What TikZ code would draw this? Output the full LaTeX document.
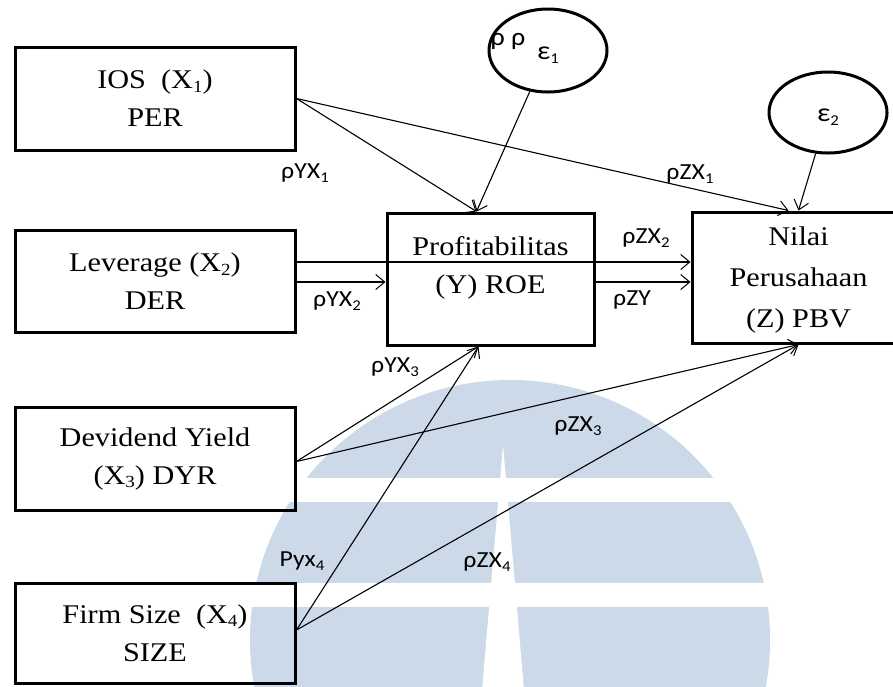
\documentclass[tikz,border=0pt]{standalone}
\usepackage{fontspec}
\setmainfont{Liberation Serif}[FakeStretch=1.12]
\newfontfamily\lblfont{Carlito}[FakeStretch=1.12]
\usetikzlibrary{arrows.meta,shapes.geometric,calc}
\definecolor{wmblue}{RGB}{204,217,232}
\newcommand\boxsub[1]{\raisebox{-0.3ex}{\fontsize{17}{17}\selectfont #1}}
\newcommand\lblsub[1]{\raisebox{-0.35ex}{\fontsize{15}{15}\selectfont #1}}
\begin{document}
\begin{tikzpicture}[x=1pt,y=-1pt,
  bx/.style={draw,line width=3pt,inner sep=0pt,align=center,font=\fontsize{27}{38}\selectfont},
  ell/.style={draw,ellipse,line width=3pt,inner sep=0pt},
  conn/.style={line width=1.1pt,-{Straight Barb[length=9pt,width=15pt,line width=1pt]}},
  lbl/.style={font=\lblfont\fontsize{23}{23}\selectfont,inner sep=0pt}]
\useasboundingbox (0,0) rectangle (893,686);
% watermark
\fill[wmblue] (510,640) circle[radius=260pt];
\fill[white] (230,478) rectangle (790,502);
\fill[white] (230,583) rectangle (790,607);
\fill[white] (503,445) -- (524,690) -- (482,690) -- cycle;
% boxes
\node[bx,minimum width=280pt,minimum height=103pt] (ios) at (155,98.5) {IOS\ \ (X\boxsub{1})\\PER};
\node[bx,minimum width=280pt,minimum height=102pt] (lev) at (155,281) {Leverage (X\boxsub{2})\\DER};
\node[bx,minimum width=280pt,minimum height=103pt] (div) at (155,458.5) {Devidend Yield\\(X\boxsub{3}) DYR};
\node[bx,minimum width=280pt,minimum height=100pt] (firm) at (155,633) {Firm Size\ \ (X\boxsub{4})\\SIZE};
\node[bx,minimum width=207pt,minimum height=132pt,text depth=28pt] (prof) at (490.5,279) {Profitabilitas\\(Y) ROE};
\node[bx,minimum width=268pt,minimum height=131pt] (nilai) at (826,277.5) {};
\node[inner sep=0pt,align=center,font=\fontsize{27}{41}\selectfont] (nilait) at (798.5,280) {Nilai\\Perusahaan\\(Z) PBV};
\node[ell,minimum width=118pt,minimum height=83pt] (e1) at (548,50.5) {};
\node[ell,minimum width=118pt,minimum height=81pt] (e2) at (828,112.5) {};
\node[lbl,font=\lblfont\fontsize{26}{26}\selectfont] (e1t) at (548,55) {ε\lblsub{1}};
\node[lbl,font=\lblfont\fontsize{26}{26}\selectfont] (e2t) at (828,117) {ε\lblsub{2}};
\node[lbl,font=\lblfont\fontsize{25}{25}\selectfont] (rr) at (508,41) {ρ ρ};
% connectors
\draw[conn] (ios.east) -- ([xshift=91pt]prof.north west);
\draw[conn] (ios.east) -- ([xshift=98pt]nilai.north west);
\draw[conn] (e1) -- ([xshift=91pt]prof.north west);
\draw[conn] (e2) -- ([xshift=108pt]nilai.north west);
\draw[conn] ([yshift=19pt]lev.east) -- ([yshift=19pt]lev.east -| nilai.west);
\draw[conn] ([yshift=-1pt]lev.east) -- ([yshift=-1pt]lev.east -| prof.west);
\draw[conn] ([yshift=-1pt]lev.east -| prof.east) -- ([yshift=-1pt]lev.east -| nilai.west);
\draw[conn] ([yshift=-3pt]div.east) -- ([xshift=93pt]prof.south west);
\draw[conn] ([yshift=-3pt]div.east) -- ([xshift=108pt]nilai.south west);
\draw[conn] ([yshift=3pt]firm.east) -- ([xshift=93pt]prof.south west);
\draw[conn] ([yshift=3pt]firm.east) -- ([xshift=108pt]nilai.south west);
% labels
\node[lbl] (l1) at (305,173) {ρYX\lblsub{1}};
\node[lbl] (l2) at (690,174) {ρZX\lblsub{1}};
\node[lbl] (l3) at (646,238) {ρZX\lblsub{2}};
\node[lbl] (l4) at (337,301) {ρYX\lblsub{2}};
\node[lbl] (l5) at (632,300) {ρZY};
\node[lbl] (l6) at (395,367) {ρYX\lblsub{3}};
\node[lbl] (l7) at (578,426) {ρZX\lblsub{3}};
\node[lbl] (l8) at (302,561) {Pyx\lblsub{4}};
\node[lbl] (l9) at (487,562) {ρZX\lblsub{4}};
\end{tikzpicture}
\end{document}
